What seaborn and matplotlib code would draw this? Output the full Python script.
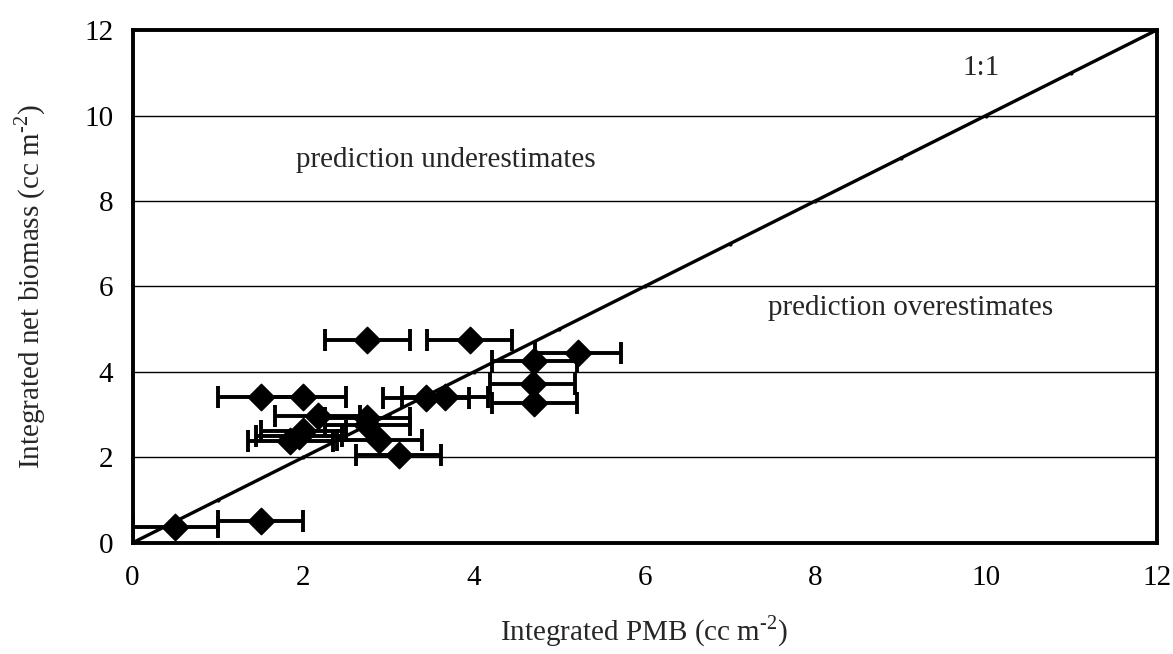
import numpy as np
import pandas as pd
import seaborn as sns
import matplotlib.pyplot as plt

# values
pmb = [2.75, 3.95, 5.22, 4.71, 4.69, 4.71, 1.50, 2.00, 3.44, 3.66,
       2.17, 2.75, 2.75, 2.00, 1.95, 1.85, 2.89, 3.12, 0.50, 1.50]
net_biomass = [4.75, 4.75, 4.45, 4.25, 3.72, 3.28, 3.42, 3.42, 3.38, 3.42,
               2.97, 2.92, 2.75, 2.62, 2.50, 2.38, 2.40, 2.05, 0.36, 0.50]
pmb_err = [0.5] * len(pmb)
one_to_one = list(range(0, 13))
ticks = [0, 2, 4, 6, 8, 10, 12]

df = pd.DataFrame({'pmb': pmb, 'net': net_biomass, 'err': pmb_err})
line_df = pd.DataFrame({'x': one_to_one, 'y': one_to_one})

sns.set_style('white')
plt.rcParams['font.family'] = ['Liberation Serif', 'DejaVu Serif']
plt.rcParams['mathtext.fontset'] = 'custom'
plt.rcParams['mathtext.rm'] = 'Liberation Serif'

fig = plt.figure(figsize=(11.73, 6.54), dpi=100)
ax = fig.add_axes([0.113, 0.170, 0.873, 0.784])

# horizontal grid
for t in ticks[1:-1]:
    ax.axhline(t, color='black', lw=1.0, zorder=0)

# 1:1 line with small dots at integers
sns.lineplot(data=line_df, x='x', y='y', ax=ax, color='black', lw=2.4,
             marker='o', markersize=3, markeredgewidth=0, zorder=2)

ax.errorbar(df['pmb'], df['net'], xerr=df['err'], fmt='none', ecolor='black',
            elinewidth=2.8, capsize=8, capthick=2.8, zorder=3)
sns.scatterplot(data=df, x='pmb', y='net', ax=ax, marker='D', s=180,
                color='black', edgecolor='black', zorder=4)

ax.set_xlim(0, 12)
ax.set_ylim(0, 12)
ax.set_xticks(ticks)
ax.set_yticks(ticks)
ax.tick_params(axis='both', labelsize=21, direction='out', length=4,
               width=1.2, colors='black')
ax.tick_params(axis='x', pad=12)
ax.tick_params(axis='y', pad=10)
for s in ax.spines.values():
    s.set_linewidth(2.8)
    s.set_color('black')

ax.text(9.72, 10.95, '1:1', fontsize=21)
ax.text(1.92, 8.95, 'prediction underestimates', fontsize=21, va='center')
ax.text(7.45, 5.5, 'prediction overestimates', fontsize=21, va='center')

ax.set_xlabel('Integrated PMB (cc m$^{\u20102}$)', fontsize=21, labelpad=16)
ax.set_ylabel('Integrated net biomass (cc m$^{\u20102}$)', fontsize=21, labelpad=26)

fig.savefig('out.png', dpi=100)
